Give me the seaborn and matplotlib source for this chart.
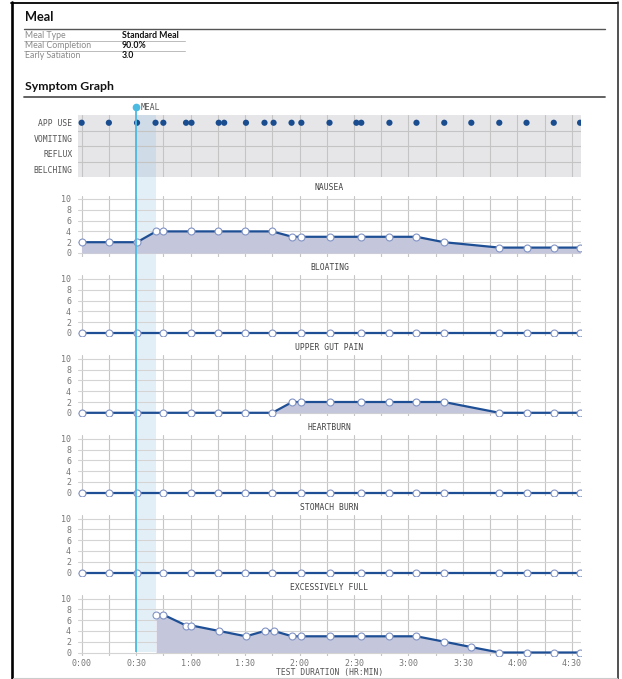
import numpy as np
import matplotlib.pyplot as plt
from matplotlib.lines import Line2D
import seaborn as sns

sns.set_theme(style="white")
plt.rcParams['font.family'] = ['Lato', 'DejaVu Sans']

# ---- data (minutes from test start) ----
meal_labels = ["Meal Type", "Meal Completion", "Early Satiation"]
meal_values = ["Standard Meal", "90.0%", "3.0"]

event_rows = ["APP USE", "VOMITING", "REFLUX", "BELCHING"]
app_use = [0, 15, 30.5, 40.7, 45, 57.5, 60.5, 75.5, 78.5, 90.5, 100.7, 105.7, 115.6, 121,
           136.5, 151.3, 154, 169.5, 184.4, 199.7, 214.6, 230, 245, 260, 274.5]

meal_start = 30
meal_end = 41

t_nausea = [0, 15, 30.5, 41, 45, 60, 75, 90, 105, 116, 121, 136.5, 154, 169.5, 184.4, 199.5, 230, 245, 260, 274.5]
v_nausea = [2, 2, 2, 4, 4, 4, 4, 4, 4, 3, 3, 3, 3, 3, 3, 2, 1, 1, 1, 1]

t_zero = [0, 15, 30.5, 45, 60, 75, 90, 105, 121, 136.5, 154, 169.5, 184.4, 199.5, 230, 245, 260, 274.5]
v_bloating = [0, 0, 0, 0, 0, 0, 0, 0, 0, 0, 0, 0, 0, 0, 0, 0, 0, 0]
v_heartburn = [0, 0, 0, 0, 0, 0, 0, 0, 0, 0, 0, 0, 0, 0, 0, 0, 0, 0]
v_stomach = [0, 0, 0, 0, 0, 0, 0, 0, 0, 0, 0, 0, 0, 0, 0, 0, 0, 0]

t_gut = [0, 15, 30.5, 45, 60, 75, 90, 105, 116, 121, 136.5, 154, 169.5, 184.4, 199.5, 230, 245, 260, 274.5]
v_gut = [0, 0, 0, 0, 0, 0, 0, 0, 2, 2, 2, 2, 2, 2, 2, 0, 0, 0, 0]

t_full = [41, 45, 57.5, 60.5, 75.5, 90.5, 101, 105.7, 116, 121, 136.5, 154, 169.5, 184.4, 199.7, 214.6, 230, 245, 260, 274.5]
v_full = [7, 7, 5, 5, 4, 3, 4, 4, 3, 3, 3, 3, 3, 3, 2, 1, 0, 0, 0, 0]

symptoms = ["NAUSEA", "BLOATING", "UPPER GUT PAIN", "HEARTBURN", "STOMACH BURN", "EXCESSIVELY FULL"]
sym_times = [t_nausea, t_zero, t_gut, t_zero, t_zero, t_full]
sym_values = [v_nausea, v_bloating, v_gut, v_heartburn, v_stomach, v_full]

x_ticks = [0, 30, 60, 90, 120, 150, 180, 210, 240, 270]
x_labels = ["0:00", "0:30", "1:00", "1:30", "2:00", "2:30", "3:00", "3:30", "4:00", "4:30"]
y_ticks = [0, 2, 4, 6, 8, 10]

# ---- layout helpers (pixel coords, origin top-left) ----
W, H = 622, 679
X0, X1 = 78, 581
XLIM = (-2, 275)
MONO = 'DejaVu Sans Mono'

line_c = '#1e4f95'
fill_c = '#c4c6dc'
edge_c = '#8193c4'
grid_c = '#c6c6c6'
cyan = '#4bbbe2'

def box(x0, y0, x1, y1):
    return [x0 / W, 1 - y1 / H, (x1 - x0) / W, (y1 - y0) / H]

def fx(x):
    return x / W

def fy(y):
    return 1 - y / H

fig = plt.figure(figsize=(W / 100, H / 100), dpi=100)
fig.patch.set_facecolor('white')

def hline(y, x0, x1, color, lw):
    fig.add_artist(Line2D([fx(x0), fx(x1)], [fy(y), fy(y)], color=color, lw=lw, transform=fig.transFigure))

def vline(x, y0, y1, color, lw):
    fig.add_artist(Line2D([fx(x), fx(x)], [fy(y0), fy(y1)], color=color, lw=lw, transform=fig.transFigure))

# page border
vline(12, 2, 679, 'black', 1.9)
hline(2.5, 11, 618, 'black', 1.3)
vline(617.5, 2, 679, '#222222', 1.1)
hline(677.5, 13, 617, '#cccccc', 0.8)

# header
fig.text(fx(25), fy(17), "Meal", fontsize=9.2, fontweight='bold', color='#111111', va='center')
hline(29, 24, 605, '#555555', 1.0)
for i, (lab, val) in enumerate(zip(meal_labels, meal_values)):
    yy = 35 + 10.5 * i
    fig.text(fx(25), fy(yy), lab, fontsize=6.3, color='#8a8a8a', va='center')
    fig.text(fx(122), fy(yy), val, fontsize=6.3, fontweight='bold', color='#111111', va='center')
    if i < 2:
        hline(yy + 5.5, 24, 185, '#bbbbbb', 0.7)
fig.text(fx(25), fy(87), "Symptom Graph", fontsize=8.8, fontweight='bold', color='#111111', va='center')
hline(97, 24, 605, '#555555', 1.3)

# meal band background (shows between panels)
bg = fig.add_axes(box(X0, 115, X1, 652))
bg.set_xlim(XLIM)
bg.set_ylim(0, 1)
bg.axvspan(meal_start, meal_end, color='#e3eff7', lw=0)
bg.axis('off')

# event band panel
ev = fig.add_axes(box(X0, 115, X1, 177))
ev.set_facecolor('#e6e6e8')
ev.set_xlim(XLIM)
ev.set_ylim(0, 4)
ev.axvspan(meal_start, meal_end, color='#cfdbe6', lw=0, zorder=0.3)
ev.set_axisbelow(True)
ev.set_xticks(np.arange(0, 271, 15))
ev.set_yticks([3.5, 2.5, 1.5, 0.5])
ev.set_yticklabels(event_rows)
ev.set_yticks([1, 2, 3], minor=True)
ev.grid(True, which='both', color='#c4c4c4', lw=0.8)
ev.grid(False, which='major', axis='y')
ev.tick_params(axis='both', which='both', length=0)
ev.tick_params(axis='x', labelbottom=False)
ev.tick_params(axis='y', pad=4, labelsize=5.8, labelcolor='#555555')
for lab in ev.get_yticklabels():
    lab.set_family(MONO)
sns.scatterplot(x=app_use, y=np.full(len(app_use), 3.5), ax=ev, color='#1a4d8f', s=20,
                edgecolor='none', zorder=3)
ev.set_xlim(XLIM)
ev.set_ylim(0, 4)
sns.despine(ax=ev, left=True, bottom=True)

# symptom panels
for i, (name, t, v) in enumerate(zip(symptoms, sym_times, sym_values)):
    top = 199 + 79.9 * i
    bot = top + 54
    ax = fig.add_axes(box(X0, top - 3.5, X1, bot + 3.5))
    ax.set_facecolor('none')
    ax.fill_between(t, v, 0, color=fill_c, lw=0, zorder=1)
    sns.lineplot(x=t, y=v, ax=ax, color=line_c, lw=1.6, marker='o', markersize=5,
                 markerfacecolor='white', markeredgecolor=edge_c, markeredgewidth=0.8, zorder=3)
    ax.set_xlim(XLIM)
    ax.set_ylim(-3.5 / 5.4, 10 + 3.5 / 5.4)
    ax.set_xticks(x_ticks)
    ax.set_xticks(np.arange(15, 271, 30), minor=True)
    ax.set_yticks(y_ticks)
    ax.set_axisbelow(True)
    ax.grid(True, which='both', axis='x', color=grid_c, lw=0.8)
    ax.grid(True, which='major', axis='y', color='#d4d4d4', lw=0.8)
    ax.tick_params(axis='x', which='both', length=0)
    ax.tick_params(axis='y', length=3, width=0.6, color='#aaaaaa', pad=2, labelsize=6, labelcolor='#777777')
    for lab in ax.get_yticklabels():
        lab.set_family(MONO)
    ax.set_xlabel('')
    ax.set_ylabel('')
    sns.despine(ax=ax, left=True, bottom=True)
    fig.text(fx((X0 + X1) / 2), fy(top - 11), name, ha='center', va='center',
             fontsize=5.8, color='#444444', family=MONO)
    if i == len(symptoms) - 1:
        ax.set_xticklabels(x_labels)
        ax.tick_params(axis='x', pad=2.5, labelsize=6, labelcolor='#777777')
        for lab in ax.get_xticklabels():
            lab.set_family(MONO)
    else:
        ax.tick_params(axis='x', labelbottom=False)

fig.text(fx((X0 + X1) / 2), fy(673), "TEST DURATION (HR:MIN)", ha='center', va='center',
         fontsize=5.8, color='#555555', family=MONO)

# meal marker line on top
ov = fig.add_axes(box(X0, 107, X1, 652))
ov.set_facecolor('none')
ov.set_xlim(XLIM)
ov.set_ylim(0, 1)
ov.axvline(meal_start, color=cyan, lw=1.3)
ov.plot([meal_start], [1], 'o', color=cyan, ms=4.5, clip_on=False)
ov.axis('off')
fig.text(fx(141), fy(107), "MEAL", va='center', fontsize=5.8, color='#555555', family=MONO)

fig.savefig("out.png", dpi=100)
